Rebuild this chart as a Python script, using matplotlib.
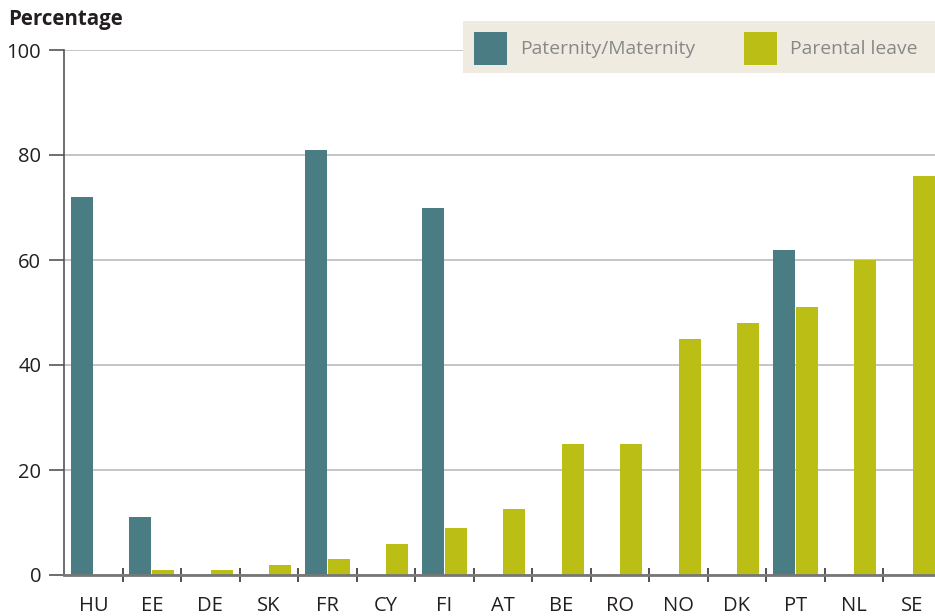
import matplotlib
matplotlib.use("Agg")
import matplotlib.pyplot as plt
import numpy as np
from matplotlib.patches import Rectangle

categories = ["HU", "EE", "DE", "SK", "FR", "CY", "FI", "AT", "BE", "RO", "NO", "DK", "PT", "NL", "SE"]
paternity_maternity = [72, 11, 0, 0, 81, 0, 70, 0, 0, 0, 0, 0, 62, 0, 0]
parental_leave = [0, 1, 1, 2, 3, 6, 9, 12.5, 25, 25, 45, 48, 51, 60, 76]
yticks = [0, 20, 40, 60, 80, 100]

TEAL = "#4A7C84"
OLIVE = "#BBBE14"
plt.rcParams['font.family'] = ['Open Sans', 'DejaVu Sans']

W, H = 935, 616
fig = plt.figure(figsize=(W / 100, H / 100), dpi=100)
ax = fig.add_axes([64.2 / W, (H - 575) / H, (941.5 - 64.2) / W, 525 / H])

x = np.arange(len(categories))
bw = 0.376
ax.bar(x - 0.196, paternity_maternity, width=bw, color=TEAL, zorder=3)
ax.bar(x + 0.197, parental_leave, width=bw, color=OLIVE, zorder=3)

ax.set_xlim(-0.5, len(categories) - 0.5)
ax.set_ylim(0, 100)
ax.set_yticks(yticks)
ax.set_yticklabels([str(v) for v in yticks], fontsize=14.5, color="#231F20")
ax.yaxis.grid(True, color="#BBBBBB", linewidth=1.2, zorder=0)
ax.tick_params(axis='y', length=10.5, width=1.2, color="#555555", pad=6)

ax.set_xticks(x)
ax.set_xticklabels(categories, fontsize=14.5, color="#231F20")
ax.tick_params(axis='x', length=0, pad=15)
ax.set_xticks(np.arange(0.5, len(categories) - 0.5, 1), minor=True)
ax.tick_params(axis='x', which='minor', direction='inout', length=10, width=1.2, color="#333333")

for s in ['top', 'right']:
    ax.spines[s].set_visible(False)
ax.spines['left'].set_color("#555555")
ax.spines['left'].set_linewidth(1.2)
ax.spines['bottom'].set_color("#777777")
ax.spines['bottom'].set_linewidth(2)
ax.spines['bottom'].set_zorder(4)

fig.text(8 / W, 1 - 19 / H, "Percentage", fontsize=14.8, fontweight='bold',
         color="#231F20", va='center', ha='left')

# legend
fig.patches.append(Rectangle((463 / W, 1 - 73 / H), (935 - 463) / W, 52 / H,
                             transform=fig.transFigure, facecolor="#EFEBE1", edgecolor='none', zorder=5))
fig.patches.append(Rectangle((474 / W, 1 - 65 / H), 33 / W, 33 / H, transform=fig.transFigure,
                             facecolor=TEAL, edgecolor='none', zorder=6))
fig.patches.append(Rectangle((744 / W, 1 - 65 / H), 33 / W, 33 / H, transform=fig.transFigure,
                             facecolor=OLIVE, edgecolor='none', zorder=6))
fig.text(520 / W, 1 - 49 / H, "Paternity/Maternity", fontsize=13.9, color="#888888",
         va='center', ha='left', zorder=7)
fig.text(790 / W, 1 - 49 / H, "Parental leave", fontsize=13.9, color="#888888",
         va='center', ha='left', zorder=7)

fig.savefig("out.png", dpi=100)
